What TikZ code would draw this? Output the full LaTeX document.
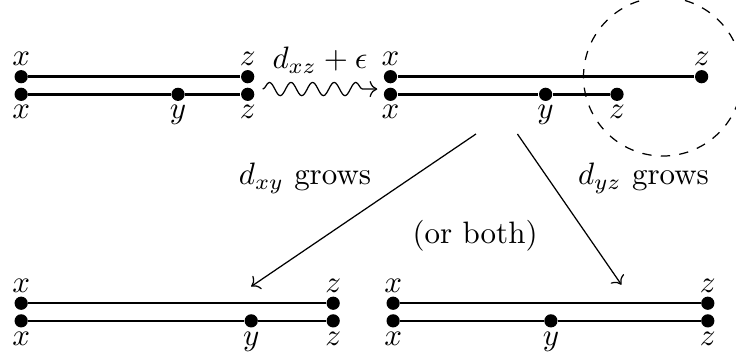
\documentclass[tikz,border=0pt]{standalone}
\usetikzlibrary{arrows.meta,decorations.pathmorphing}
\begin{document}
\begin{tikzpicture}[
  x=1cm,y=1cm,>={To},
  dot/.style={circle,fill=black,inner sep=0pt,minimum size=1.5mm},
  seg/.style={thick},
  tagup/.style={label={[inner sep=1pt]above:$#1$}},
  tagdn/.style={label={[inner sep=1pt]below:$#1$}},
  move/.style={->,decorate,decoration={snake,amplitude=0.75mm,segment length=2.45mm,post length=0.9mm}},
  branch/.style={->,thin}
]
\useasboundingbox (0,0) rectangle (8.35,4.06);
\clip (0,0) rectangle (8.35,4.06);

% Before.
\node[dot,tagup=x] (Aux) at (0.24,3.19) {};
\node[dot,tagup=z] (Auz) at (2.81,3.19) {};
\node[dot,tagdn=x] (Adx) at (0.24,2.99) {};
\node[dot,tagdn=y] (Ady) at (2.02,2.99) {};
\node[dot,tagdn=z] (Adz) at (2.81,2.99) {};
\draw[seg] (Aux) -- (Auz);
\draw[seg] (Adx) -- (Ady) -- (Adz);

% Move z.
\coordinate (w0) at (2.98,3.05);
\coordinate (w1) at (4.28,3.05);
\draw[move] (w0) -- (w1);
\node (eps) at (3.63,3.38) {$d_{xz}+\epsilon$};

% After.
\node[dot,tagup=x] (Bux) at (4.43,3.19) {};
\node[dot,tagup=z] (Buz) at (7.96,3.19) {};
\node[dot,tagdn=x] (Bdx) at (4.43,2.99) {};
\node[dot,tagdn=y] (Bdy) at (6.19,2.99) {};
\node[dot,tagdn=z] (Bdz) at (7.00,2.99) {};
\draw[seg] (Bux) -- (Buz);
\draw[seg] (Bdx) -- (Bdy) -- (Bdz);
\draw[dashed] (7.52,3.19) circle (0.9);

% Two outcomes.
\coordinate (sL) at (5.40,2.54);
\coordinate (eL) at (2.85,0.81);
\coordinate (sR) at (5.87,2.54);
\coordinate (eR) at (7.05,0.83);
\draw[branch] (sL) -- (eL);
\draw[branch] (sR) -- (eR);
\node (gxy) at (3.46,2.04) {$d_{xy}$ grows};
\node (gyz) at (7.30,2.04) {$d_{yz}$ grows};
\node (both) at (5.39,1.38) {(or both)};

% d_xy grows.
\node[dot,tagup=x] (Cux) at (0.24,0.62) {};
\node[dot,tagup=z] (Cuz) at (3.78,0.62) {};
\node[dot,tagdn=x] (Cdx) at (0.24,0.42) {};
\node[dot,tagdn=y] (Cdy) at (2.85,0.42) {};
\node[dot,tagdn=z] (Cdz) at (3.78,0.42) {};
\draw[seg] (Cux) -- (Cuz);
\draw[seg] (Cdx) -- (Cdy) -- (Cdz);

% d_yz grows.
\node[dot,tagup=x] (Dux) at (4.46,0.62) {};
\node[dot,tagup=z] (Duz) at (8.03,0.62) {};
\node[dot,tagdn=x] (Ddx) at (4.46,0.42) {};
\node[dot,tagdn=y] (Ddy) at (6.25,0.42) {};
\node[dot,tagdn=z] (Ddz) at (8.03,0.42) {};
\draw[seg] (Dux) -- (Duz);
\draw[seg] (Ddx) -- (Ddy) -- (Ddz);
\end{tikzpicture}
\end{document}
